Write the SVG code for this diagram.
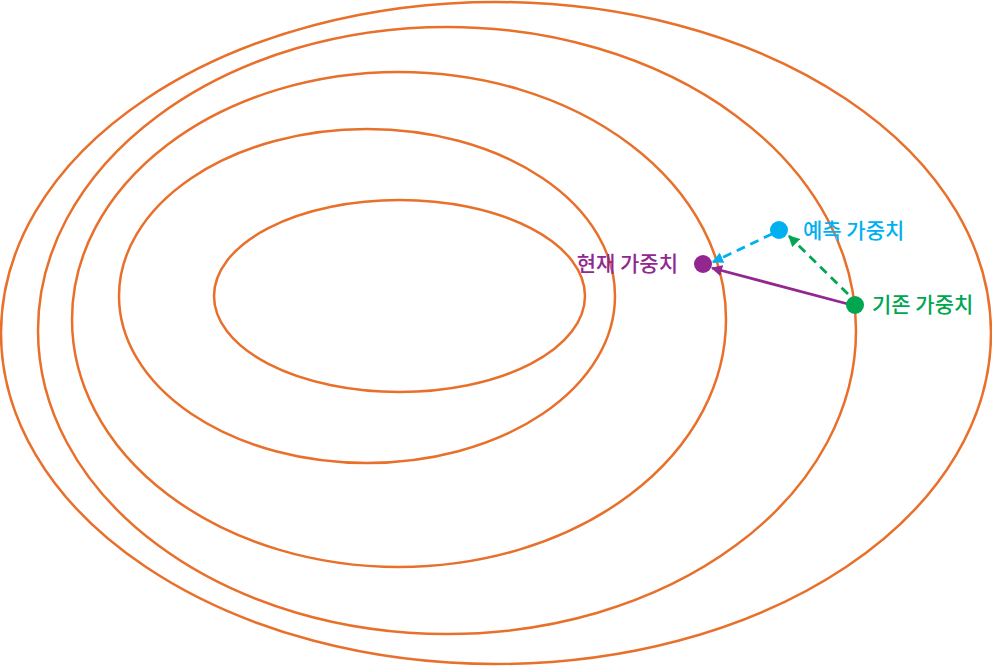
<svg xmlns="http://www.w3.org/2000/svg" width="992" height="666" viewBox="0 0 992 666">
<style>
.c{fill:none;stroke:#e8702a;stroke-width:2.5}
.t{font-family:"Noto Sans CJK KR","Noto Sans",sans-serif;font-size:21px;font-weight:500}
</style>
<defs>
<marker id="mp" viewBox="0 0 10 10" refX="9" refY="5" markerWidth="4" markerHeight="4" orient="auto" markerUnits="strokeWidth"><path d="M0,0L10,5L0,10z" fill="#92278f"/></marker>
<marker id="mb" viewBox="0 0 10 10" refX="9" refY="5" markerWidth="4" markerHeight="4" orient="auto" markerUnits="strokeWidth"><path d="M0,0L10,5L0,10z" fill="#00b0f0"/></marker>
<marker id="mg" viewBox="0 0 10 10" refX="9" refY="5" markerWidth="4" markerHeight="4" orient="auto" markerUnits="strokeWidth"><path d="M0,0L10,5L0,10z" fill="#00a650"/></marker>
</defs>
<rect width="992" height="666" fill="#fff"/>
<g id="contours">
<ellipse class="c" cx="496" cy="333" rx="495" ry="331"/>
<ellipse class="c" cx="447" cy="330.5" rx="409" ry="303.5"/>
<ellipse class="c" cx="399" cy="319.5" rx="327" ry="247.5"/>
<ellipse class="c" cx="367" cy="296" rx="248" ry="167"/>
<ellipse class="c" cx="399.5" cy="296" rx="185.5" ry="96"/>
</g>
<g id="connectors">
<line x1="848" y1="304" x2="712" y2="268" stroke="#92278f" stroke-width="2.8" marker-end="url(#mp)"/>
<line x1="772" y1="234" x2="713" y2="262" stroke="#00b0f0" stroke-width="2.8" stroke-dasharray="9,6" marker-end="url(#mb)"/>
<line x1="848" y1="294" x2="789" y2="236" stroke="#00a650" stroke-width="2.8" stroke-dasharray="9,6" marker-end="url(#mg)"/>
</g>
<g id="current">
<circle cx="703" cy="264" r="9" fill="#92278f"/>
<text class="t" x="678" y="271" text-anchor="end" fill="#92278f">현재 가중치</text>
</g>
<g id="predicted">
<circle cx="779" cy="230" r="9" fill="#00b0f0"/>
<text class="t" x="803" y="238" fill="#00b0f0">예측 가중치</text>
</g>
<g id="previous">
<circle cx="855" cy="305" r="9" fill="#00a650"/>
<text class="t" x="872" y="312" fill="#00a650">기존 가중치</text>
</g>
</svg>
